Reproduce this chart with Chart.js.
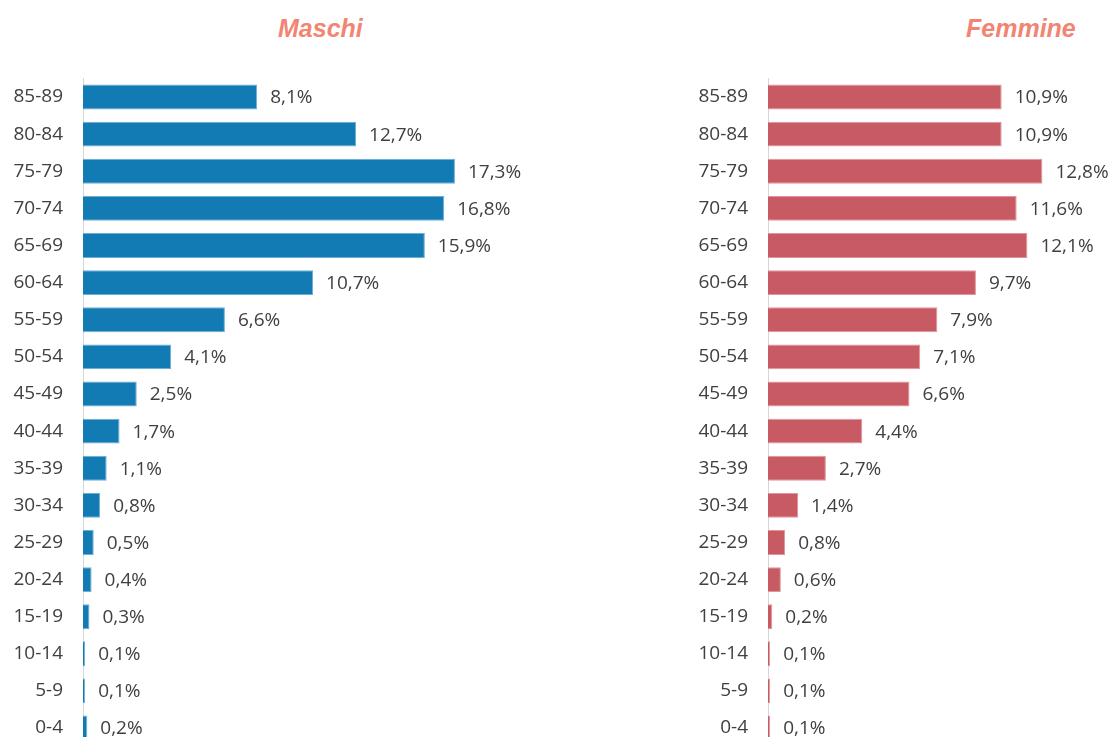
<!DOCTYPE html>
<html>
<head>
<meta charset="utf-8">
<script src="https://cdn.jsdelivr.net/npm/chart.js@4.4.1/dist/chart.umd.min.js"></script>
<style>
  html, body { margin: 0; padding: 0; background: #fff; overflow: hidden; }
  body { width: 1109px; height: 737px; position: relative; }
  .titolo { position: absolute; top: 14px; font-family: "Liberation Sans", Arial, sans-serif;
    font-weight: bold; font-style: italic; font-size: 25px; color: #F28572; }
  canvas { position: absolute; top: 0; }
</style>
</head>
<body>
<div class="titolo" style="left:278px">Maschi</div>
<div class="titolo" style="left:966px">Femmine</div>
<canvas id="chart-maschi" width="560" height="778" style="left:0"></canvas>
<canvas id="chart-femmine" width="430" height="778" style="left:685px"></canvas>
<script>
'use strict';

var classi = ["85-89", "80-84", "75-79", "70-74", "65-69", "60-64", "55-59", "50-54", "45-49",
  "40-44", "35-39", "30-34", "25-29", "20-24", "15-19", "10-14", "5-9", "0-4"];

var maschi = [8.1, 12.7, 17.3, 16.8, 15.9, 10.7, 6.6, 4.1, 2.5, 1.7, 1.1, 0.8, 0.5, 0.4, 0.3, 0.1, 0.1, 0.2];

var femmine = [10.9, 10.9, 12.8, 11.6, 12.1, 9.7, 7.9, 7.1, 6.6, 4.4, 2.7, 1.4, 0.8, 0.6, 0.2, 0.1, 0.1, 0.1];

// etichette con il valore a destra di ogni barra
var etichettePlugin = {
  id: 'etichette',
  afterDatasetsDraw: function(chart) {
    var ctx = chart.ctx;
    var meta = chart.getDatasetMeta(0);
    ctx.save();
    ctx.font = '19px "Open Sans", sans-serif';
    ctx.fillStyle = '#404040';
    ctx.textBaseline = 'middle';
    meta.data.forEach(function(bar, i) {
      var v = chart.data.datasets[0].data[i];
      ctx.fillText(v.toFixed(1).replace('.', ',') + '%', bar.x + 13, bar.y + 1);
    });
    ctx.restore();
  }
};

function creaGrafico(id, valori, colore, bordo, xMax, padRight) {
  return new Chart(document.getElementById(id), {
    type: 'bar',
    data: {
      labels: classi,
      datasets: [{
        data: valori,
        backgroundColor: colore,
        borderColor: bordo,
        borderWidth: 1,
        borderSkipped: 'start',
        barPercentage: 0.67,
        categoryPercentage: 1
      }]
    },
    options: {
      indexAxis: 'y',
      responsive: false,
      animation: false,
      layout: { padding: { top: 78.5, bottom: 15, right: padRight, left: 0 } },
      plugins: { legend: { display: false }, tooltip: { enabled: false } },
      scales: {
        x: { display: false, min: 0, max: xMax },
        y: {
          afterFit: function(scale) { scale.width = 83; },
          grid: { drawOnChartArea: false, drawTicks: false },
          border: { display: true, color: '#D6D6D6', width: 1 },
          ticks: { color: '#404040', padding: 20, font: { family: '"Open Sans", sans-serif', size: 19 } }
        }
      }
    },
    plugins: [etichettePlugin]
  });
}

creaGrafico('chart-maschi', maschi, '#137BB4', '#6FAFD6', 20, 47);
creaGrafico('chart-femmine', femmine, '#C85A64', '#E0959B', 16, 4);
</script>
</body>
</html>
